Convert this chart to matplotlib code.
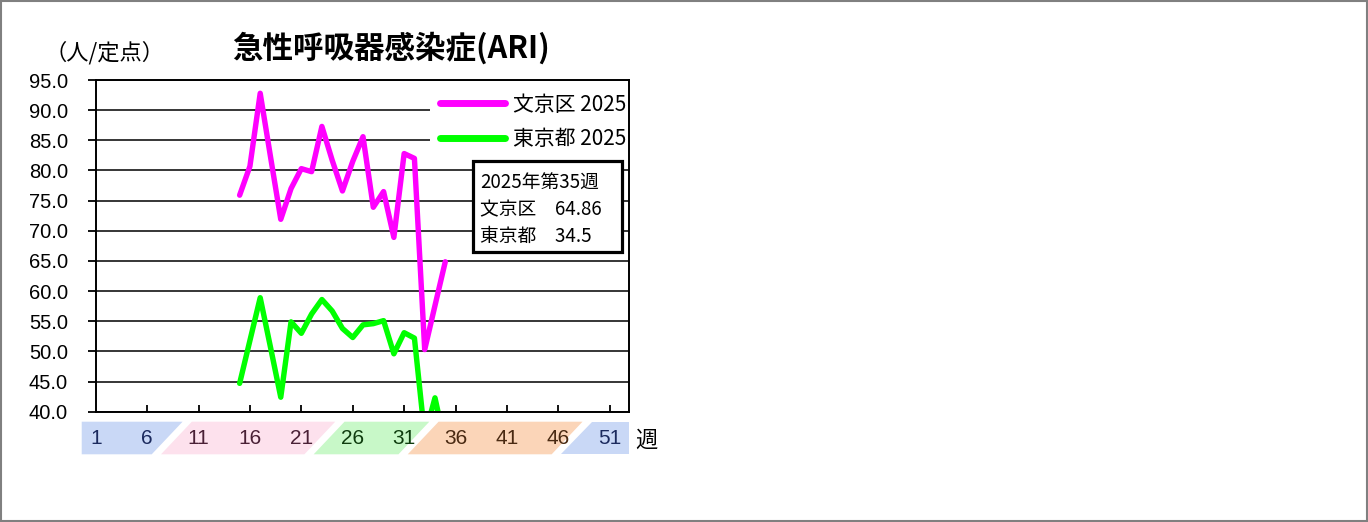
import matplotlib
matplotlib.use("Agg")
import matplotlib.pyplot as plt
from matplotlib.patches import Polygon, Rectangle

# ── data ─────────────────────────────────────────────────────────────────────
weeks = list(range(15, 36))
bunkyo = [75.9, 80.7, 92.8, 82.3, 71.9, 77.0, 80.3, 79.8, 87.3, 81.7, 76.6,
          81.5, 85.6, 73.9, 76.5, 68.9, 82.8, 82.0, 50.3, 57.6, 64.86]
tokyo = [44.7, 51.8, 58.9, 50.7, 42.4, 54.9, 53.0, 56.2, 58.6, 56.7, 53.8,
         52.3, 54.4, 54.6, 55.1, 49.6, 53.1, 52.2, 36.0, 42.3, 34.5]
week_labels = [1, 6, 11, 16, 21, 26, 31, 36, 41, 46, 51]
y_ticks = [40, 45, 50, 55, 60, 65, 70, 75, 80, 85, 90, 95]

series_names = ["文京区 2025", "東京都 2025"]
box_lines = ["2025年第35週", "文京区　64.86", "東京都　34.5"]

# season bands (week where one band turns into the next)
season_breaks = [8.4, 23.25, 32.4, 47.3]
season_fill = ["#c9d8f6", "#fde1ed", "#c8f8c8", "#fbd5b8", "#c9d8f6"]
season_text = ["#1b2a5e", "#4a2036", "#0f3d0f", "#4a2a12", "#1b2a5e"]

JP = ["Noto Sans CJK JP", "DejaVu Sans"]
NUM = ["Liberation Sans", "DejaVu Sans"]

W, H = 1368, 522
fig = plt.figure(figsize=(W / 100, H / 100), dpi=100)
fig.patch.set_facecolor("white")

# outer frame
fig.patches.append(Rectangle((0.001, 0.002), 0.998, 0.996, transform=fig.transFigure,
                             fill=False, edgecolor="#808080", linewidth=1.5))

left, right, top, bottom = 95.7, 629.3, 80.0, 411.7
ax = fig.add_axes([left / W, 1 - bottom / H, (right - left) / W, (bottom - top) / H])

ax.plot(weeks, bunkyo, color="#ff00ff", linewidth=3.9, solid_joinstyle="round",
        solid_capstyle="round", label=series_names[0], zorder=3)
ax.plot(weeks, tokyo, color="#00ff00", linewidth=3.9, solid_joinstyle="round",
        solid_capstyle="round", label=series_names[1], zorder=3)

ax.set_xlim(1, 52.9)
ax.set_ylim(40, 95)
ax.set_yticks(y_ticks)
ax.set_yticklabels([f"{v:.1f}" for v in y_ticks], family=NUM, fontsize=14.5)
ax.set_xticks(week_labels[1:])
ax.set_xticklabels([])
ax.tick_params(axis="y", direction="out", length=6, width=1.3, pad=14, colors="black")
ax.tick_params(axis="x", direction="in", length=5, width=1.3)
ax.grid(axis="y", color="black", linewidth=1.1, zorder=1)
ax.set_axisbelow(True)
for s in ax.spines.values():
    s.set_linewidth(1.4)
    s.set_zorder(6)

leg = ax.legend(loc="upper left", bbox_to_anchor=(0.6265, 0.99), borderaxespad=0,
                prop={"family": JP, "size": 15}, handlelength=3.1, handletextpad=0.4,
                labelspacing=0.6, borderpad=0.5, frameon=True, fancybox=False)
leg.get_frame().set_facecolor("white")
leg.get_frame().set_edgecolor("none")
leg.get_frame().set_alpha(1)
for h in leg.get_lines():
    h.set_linewidth(5)
    h.set_solid_capstyle("round")

# info box
def ax_x(px):
    return (px - left) / (right - left)

def ax_y(py):
    return (bottom - py) / (bottom - top)

box = Rectangle((ax_x(472.7), ax_y(252.3)), ax_x(622.3) - ax_x(472.7),
                ax_y(161) - ax_y(252.3), transform=ax.transAxes, facecolor="white",
                edgecolor="black", linewidth=2.3, zorder=7)
ax.add_patch(box)
for i, line in enumerate(box_lines):
    ax.text(ax_x(480.5), ax_y(183 + i * 26.5), line, transform=ax.transAxes,
            family=JP, fontsize=13.5, ha="left", va="center", zorder=8)

# week band under the axis
tr = ax.get_xaxis_transform()
y_top, y_bot = ax_y(421.7), ax_y(454.3)
edges = [-0.36] + season_breaks + [52.9]
half_gap, slant = 0.45, 1.5
for i in range(len(edges) - 1):
    a, b = edges[i], edges[i + 1]
    if i == 0:
        lb, lt = a, a
    else:
        lb, lt = a - slant + half_gap, a + slant + half_gap
    if i == len(edges) - 2:
        rb, rt = b, b
    else:
        rb, rt = b - slant - half_gap, b + slant - half_gap
    poly = Polygon([(lb, y_bot), (rb, y_bot), (rt, y_top), (lt, y_top)],
                   closed=True, transform=tr, facecolor=season_fill[i],
                   edgecolor="none", clip_on=False, zorder=1)
    ax.add_patch(poly)

for w in week_labels:
    k = sum(w > e for e in season_breaks)
    ax.text(w, ax_y(438.5), str(w), transform=tr, family=NUM, fontsize=15,
            color=season_text[k], ha="center", va="center", clip_on=False, zorder=2)

fig.text(646 / W, 1 - 440 / H, "週", family=JP, fontsize=16, ha="center", va="center")
fig.text(390.5 / W, 1 - 48.3 / H, "急性呼吸器感染症(ARI)", family=JP, fontsize=22,
         fontweight="bold", ha="center", va="center")
fig.text(104 / W, 1 - 53 / H, "（人/定点）", family=JP, fontsize=16, ha="center", va="center")

fig.savefig("out.png", dpi=100)
plt.close(fig)
